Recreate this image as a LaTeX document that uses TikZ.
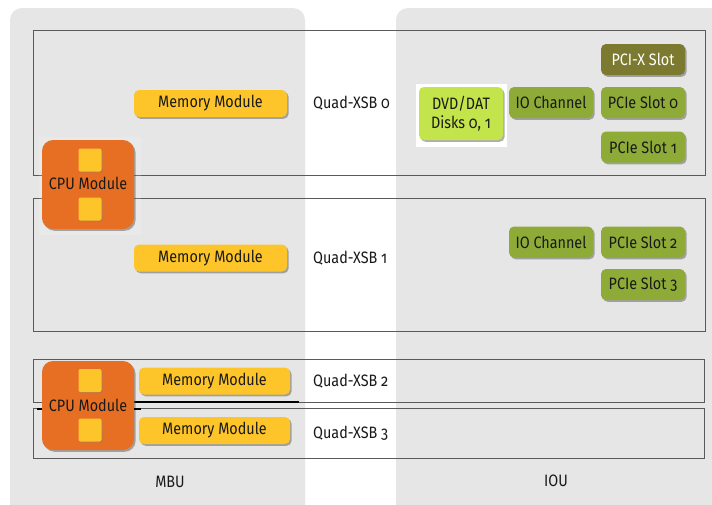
\documentclass[tikz,border=0pt]{standalone}
\usepackage{fontspec}
\setmainfont{Fira Sans}[Numbers=OldStyle, FakeStretch=0.87]
\usetikzlibrary{shadows}
\definecolor{panelgray}{HTML}{E6E6E6}
\definecolor{memyellow}{HTML}{FDC52A}
\definecolor{cpuorange}{HTML}{E76F24}
\definecolor{olive}{HTML}{7C7A30}
\definecolor{slotgreen}{HTML}{8DAB36}
\definecolor{dvdgreen}{HTML}{C4E44C}
\definecolor{boxline}{HTML}{5A5A5A}
\newcommand{\labelfont}{\fontsize{16.5}{19}\selectfont}
\tikzset{
  panel/.style={fill=panelgray, draw=none, rounded corners=12pt, inner sep=0pt},
  xsb/.style={draw=boxline, line width=0.9pt, inner sep=0pt},
  modshadow/.style={drop shadow={shadow xshift=1.6pt, shadow yshift=-1.8pt, opacity=0.45, fill=black!70}},
  mem/.style={fill=memyellow, rounded corners=5pt, modshadow, minimum height=27pt, font=\labelfont, text=black!90},
  cpu/.style={fill=cpuorange, rounded corners=11pt, modshadow, minimum width=92pt, minimum height=89pt, inner sep=0pt},
  chip/.style={fill=memyellow, rounded corners=2pt, drop shadow={shadow xshift=1pt, shadow yshift=-1pt, opacity=0.4}, minimum size=23pt, inner sep=0pt},
  slot/.style={fill=slotgreen, rounded corners=5pt, modshadow, minimum width=84pt, minimum height=31pt, inner sep=0pt, font=\labelfont, text=black!90},
  pcix/.style={slot, fill=olive, text=white},
  dvd/.style={slot, fill=dvdgreen, minimum height=53pt, align=center, font=\fontsize{16.5}{19}\selectfont},
  lbl/.style={font=\labelfont, text=black!90, inner sep=0pt},
}
\begin{document}
\begin{tikzpicture}[x=1pt, y=-1pt]
\useasboundingbox (0,0) rectangle (712,504);
\fill[white] (0,0) rectangle (712,504);

% unit panels
\fill[panel] (10,8) rectangle (305,516);
\fill[panel] (396,8) rectangle (730,516);
\fill[panelgray] (10,500) rectangle (305,504);
\fill[panelgray] (396,500) rectangle (712,504);

% Quad-XSB outlines
\node[xsb, minimum width=672pt, minimum height=145pt] (xsb0) at (369,102.5) {};
\node[xsb, minimum width=672pt, minimum height=133pt] (xsb1) at (369,264.5) {};
\node[xsb, minimum width=671pt, minimum height=43pt] (xsb2) at (368.5,380.5) {};
\node[xsb, minimum width=671pt, minimum height=50pt] (xsb3) at (368.5,433) {};

% heavier rails between boards 2 and 3
\coordinate (r2a) at (134,402);
\coordinate (r2b) at (299,402);
\draw[black, line width=1.6pt] (r2a) -- (r2b);
\coordinate (r3a) at (37,408.5);
\coordinate (r3b) at (141,408.5);
\draw[black, line width=1.4pt] (r3a) -- (r3b);

% Quad-XSB labels
\node[lbl, anchor=west] (q0) at (313,103) {Quad-XSB 0};
\node[lbl, anchor=west] (q1) at (313,258) {Quad-XSB 1};
\node[lbl, anchor=west] (q2) at (313,381) {Quad-XSB 2};
\node[lbl, anchor=west] (q3) at (313,433) {Quad-XSB 3};

% memory modules
\node[mem, minimum width=153pt] (m0) at (210.5,103.5) {Memory Module};
\node[mem, minimum width=153pt] (m1) at (210.5,258) {Memory Module};
\node[mem, minimum width=151pt] (m2) at (214.5,381) {Memory Module};
\node[mem, minimum width=151pt] (m3) at (214.5,430.5) {Memory Module};

% CPU modules
\fill[white, opacity=0.15] (39,137) rectangle (141,235);
\node[cpu] (cpu0) at (88,184.5) {};
\node[chip] (c0a) at (90,160) {};
\node[chip] (c0b) at (90,209) {};
\node[lbl] (cpu0t) at (88,183.5) {CPU Module};

\node[cpu] (cpu1) at (88,405.5) {};
\node[chip] (c1a) at (90,380.5) {};
\node[chip] (c1b) at (90,430) {};
\fill[black] (37,407.5) rectangle (42,409.5);
\fill[black] (134,407.5) rectangle (141,409.5);
\node[lbl] (cpu1t) at (88,405) {CPU Module};

% IOU components
\fill[white] (416,84) rectangle (507,147);
\node[dvd] (dvd) at (461,113.5) {DVD/DAT\\Disks 0, 1};
\node[slot] (io0) at (551,102.5) {IO Channel};
\node[pcix] (pcix) at (643,59.5) {PCI-X Slot};
\node[slot] (p0) at (643,102.5) {PCIe Slot 0};
\node[slot] (p1) at (643,147) {PCIe Slot 1};
\node[slot] (io1) at (551,242) {IO Channel};
\node[slot] (p2) at (643,242) {PCIe Slot 2};
\node[slot] (p3) at (643,284.5) {PCIe Slot 3};

% unit names
\node[lbl] (mbu) at (170,482) {MBU};
\node[lbl] (iou) at (556,481) {IOU};
\end{tikzpicture}
\end{document}
